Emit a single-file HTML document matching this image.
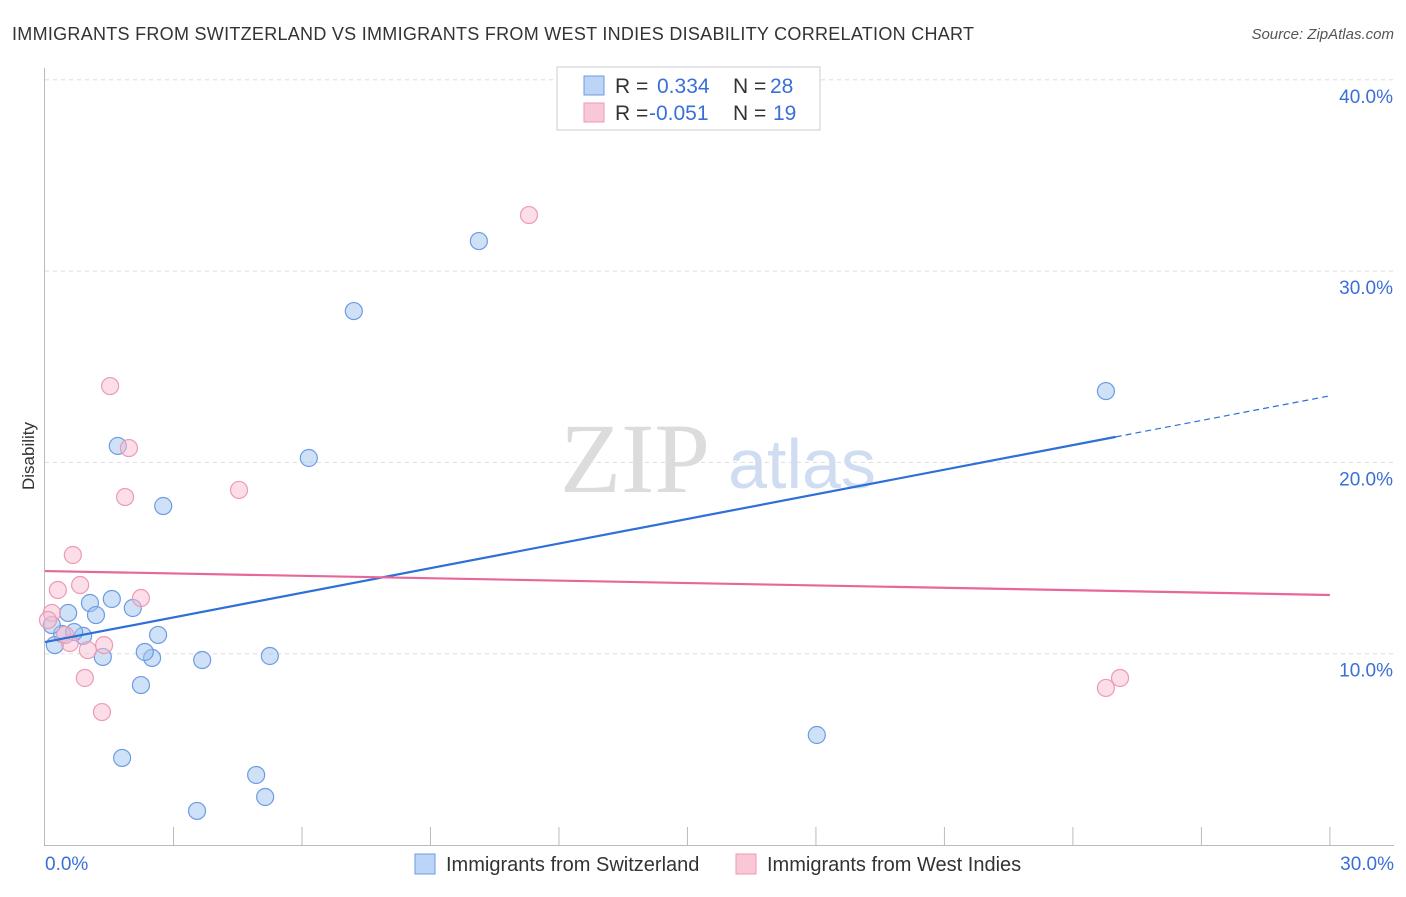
<!DOCTYPE html>
<html><head><meta charset="utf-8"><style>
body{margin:0;background:#fff;font-family:"Liberation Sans",sans-serif;}
</style></head><body>
<svg id="c" width="1406" height="892" style="font-family:'Liberation Sans',sans-serif">
<text x="12" y="40" font-size="18" fill="#333" textLength="962">IMMIGRANTS FROM SWITZERLAND VS IMMIGRANTS FROM WEST INDIES DISABILITY CORRELATION CHART</text>
<text x="1394" y="39" font-size="15" fill="#555" font-style="italic" text-anchor="end">Source: ZipAtlas.com</text>
<text x="34" y="456" font-size="17" fill="#333" transform="rotate(-90 34 456)" text-anchor="middle">Disability</text>
<text x="635" y="492" font-size="100" fill="#dcdcdc" style="font-family:'Liberation Serif',serif" text-anchor="middle">ZIP</text>
<text x="802" y="488" font-size="70" fill="#cfdcf2" text-anchor="middle">atlas</text>
<g id="grid"></g><g id="marks"></g>
<g>
<rect x="557" y="67" width="263" height="63" fill="#fff" stroke="#ccc"/>
<rect x="584" y="76" width="20" height="19" fill="#bcd4f6" stroke="#6d9be3"/>
<rect x="584" y="103" width="20" height="19" fill="#f9c8d7" stroke="#ee9ab4"/>
<text x="615" y="93" font-size="21" fill="#333">R = <tspan fill="#3a6fd8" x="657">0.334</tspan><tspan fill="#333" x="733">N = </tspan><tspan fill="#3a6fd8" x="770">28</tspan></text>
<text x="615" y="120" font-size="21" fill="#333">R = <tspan fill="#3a6fd8" x="649">-0.051</tspan><tspan fill="#333" x="733">N = </tspan><tspan fill="#3a6fd8" x="773">19</tspan></text>
</g>
<g>
<rect x="415" y="854" width="20" height="20" fill="#bcd4f6" stroke="#6d9be3"/>
<text x="446" y="871" font-size="20" fill="#333">Immigrants from Switzerland</text>
<rect x="736" y="854" width="20" height="20" fill="#f9c8d7" stroke="#ee9ab4"/>
<text x="767" y="871" font-size="20" fill="#333">Immigrants from West Indies</text>
</g>
</svg>
<script>
const blueX=[1.70,2.76,6.16,7.21,10.13,24.77,18.02,1.80,5.14,4.93,3.55,3.67,5.25,2.50,2.33,2.24,1.35,2.64,2.05,1.56,1.05,1.19,0.54,0.89,0.40,0.23,0.16,0.68];
const blueY=[20.86,17.72,20.23,27.91,31.57,23.73,5.75,4.55,2.51,3.66,1.78,9.67,9.88,9.78,10.09,8.36,9.83,10.98,12.39,12.86,12.65,12.02,12.13,10.93,11.03,10.45,11.50,11.13];
const pinkX=[11.30,1.52,1.96,1.87,4.53,0.65,0.82,0.30,2.24,0.16,0.07,1.38,0.58,1.00,0.93,1.33,25.10,24.77,0.47];
const pinkY=[32.93,23.99,20.75,18.19,18.56,15.16,13.59,13.33,12.91,12.13,11.76,10.45,10.56,10.19,8.73,6.95,8.73,8.21,10.98];
const yTicks=[10,20,30,40];
const yTickLabels=["10.0%","20.0%","30.0%","40.0%"];
const blueTrend=[10.61,0.429];
const pinkTrend=[14.32,-0.0417];
const NS='http://www.w3.org/2000/svg';
const sx=v=>45+v*42.83, sy=v=>845-v*19.13;
function mk(t,a,p){const e=document.createElementNS(NS,t);for(const k in a)e.setAttribute(k,a[k]);p.appendChild(e);return e;}
const g=document.getElementById('grid'),m=document.getElementById('marks');
const ax=mk('line',{x1:44.5,y1:68,x2:44.5,y2:846,stroke:'#bbb'},g);


const bx=mk('line',{x1:44,y1:845.5,x2:1394,y2:845.5,stroke:'#bbb'},g);


yTicks.forEach((t,i)=>{
 const l=mk('line',{x1:45,x2:1394,y1:sy(t),y2:sy(t),stroke:'#ddd','stroke-dasharray':'4,4'},g);
 
 
 const tx=mk('text',{x:1393,y:sy(t)+23,'font-size':19,fill:'#3a6fd8','text-anchor':'end'},g);
 tx.textContent=yTickLabels[i];
 
 
});
for(let i=1;i<=10;i++){
 const l=mk('line',{x1:sx(i*3),x2:sx(i*3),y1:827,y2:845,stroke:'#bbb'},g);
 
 
}
[["0.0%",45,'start'],["30.0%",1394,'end']].forEach(([s,x,a])=>{
 const t=mk('text',{x:x,y:870,'font-size':19,fill:'#3a6fd8','text-anchor':a},g);t.textContent=s;
 
 
});
blueX.forEach((x,i)=>{const c=mk('circle',{cx:sx(x),cy:sy(blueY[i]),r:8.5,fill:'rgba(160,195,240,0.5)',stroke:'#6d9be3','stroke-width':1.2},m);
 
 });
pinkX.forEach((x,i)=>{const c=mk('circle',{cx:sx(x),cy:sy(pinkY[i]),r:8.5,fill:'rgba(248,190,208,0.5)',stroke:'#ee9ab4','stroke-width':1.2},m);
 
 });
const bt=x=>blueTrend[0]+blueTrend[1]*x, pt=x=>pinkTrend[0]+pinkTrend[1]*x;
const l1=mk('line',{x1:sx(0),y1:sy(bt(0)),x2:sx(25),y2:sy(bt(25)),stroke:'#2e6fd8','stroke-width':2.2},m);


const l2=mk('line',{x1:sx(25),y1:sy(bt(25)),x2:sx(29.95),y2:sy(bt(29.95)),stroke:'#2e6fd8','stroke-width':1.2,'stroke-dasharray':'6,4'},m);


const l3=mk('line',{x1:sx(0),y1:sy(pt(0)),x2:sx(30),y2:sy(pt(30)),stroke:'#e8679a','stroke-width':2.2},m);


</script>
</body></html>
